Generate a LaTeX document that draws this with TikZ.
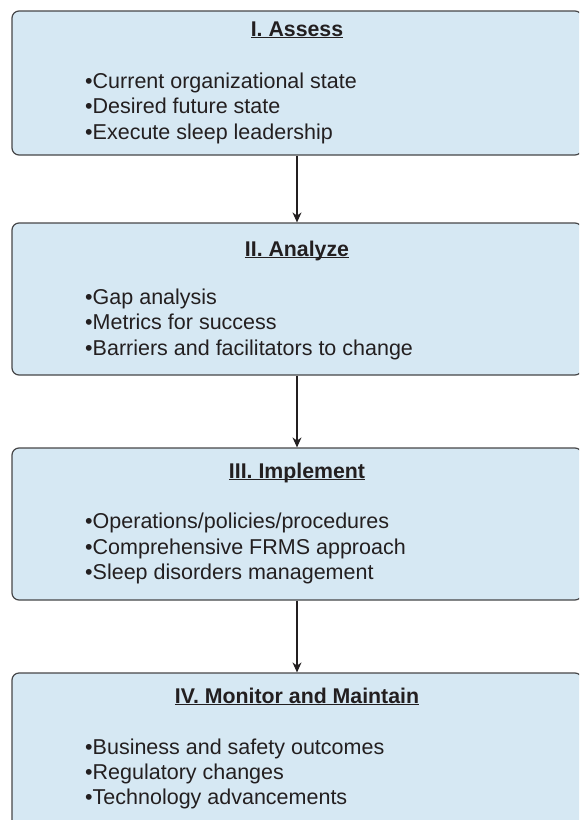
\documentclass[tikz,border=0pt]{standalone}
\usepackage{fontspec}
\setmainfont{Liberation Sans}
\usetikzlibrary{arrows.meta}
\definecolor{boxblue}{RGB}{214,232,243}
\definecolor{ink}{RGB}{35,31,32}
\definecolor{edge}{RGB}{70,70,72}

\begin{document}
\begin{tikzpicture}[x=1pt,y=-1pt,
 stage/.style={draw=edge, line width=1.2pt, fill=boxblue, rounded corners=7pt, minimum width=570pt, inner sep=0pt},
 title/.style={font=\fontsize{21.3}{25}\selectfont\bfseries, text=ink, anchor=base, inner sep=0pt},
 item/.style={font=\fontsize{21.5}{25}\selectfont, text=ink, anchor=base west, inner sep=0pt},
 flow/.style={-{Stealth[length=10pt,width=9pt]}, line width=1.1pt, draw=ink}
]
\useasboundingbox (0,0) rectangle (579,820);
\clip (0,0) rectangle (579,820);

% the four stages
\node[stage, minimum height=144pt] (assess) at (297,83) {};
\node[stage, minimum height=152pt] (analyze) at (297,299) {};
\node[stage, minimum height=152pt] (implement) at (297,524) {};
\node[stage, minimum height=167pt] (monitor) at (297,756.5) {};

% headings
\node[title] (assessTitle) at (297,36) {\underline{\smash{I. Assess}}};
\node[title] (analyzeTitle) at (297,256) {\underline{\smash{II. Analyze}}};
\node[title] (implementTitle) at (297,478) {\underline{\smash{III. Implement}}};
\node[title] (monitorTitle) at (297,703) {\underline{\smash{IV. Monitor and Maintain}}};

% bullet lines
\foreach \txt [count=\i] in {Current organizational state, Desired future state, Execute sleep leadership}
 \node[item] (assess\i) at (85,62.5+25.5*\i) {•\txt};
\foreach \txt [count=\i] in {Gap analysis, Metrics for success, Barriers and facilitators to change}
 \node[item] (analyze\i) at (85,278.5+25.5*\i) {•\txt};
\foreach \txt [count=\i] in {Operations/policies/procedures, Comprehensive FRMS approach, Sleep disorders management}
 \node[item] (implement\i) at (85,502.5+25.8*\i) {•\txt};
\foreach \txt [count=\i] in {Business and safety outcomes, Regulatory changes, Technology advancements}
 \node[item] (monitor\i) at (85,729+25*\i) {•\txt};

% arrows between stages
\draw[flow] (assess.south) -- (analyze.north);
\draw[flow] (analyze.south) -- (implement.north);
\draw[flow] (implement.south) -- (monitor.north);

\end{tikzpicture}
\end{document}
